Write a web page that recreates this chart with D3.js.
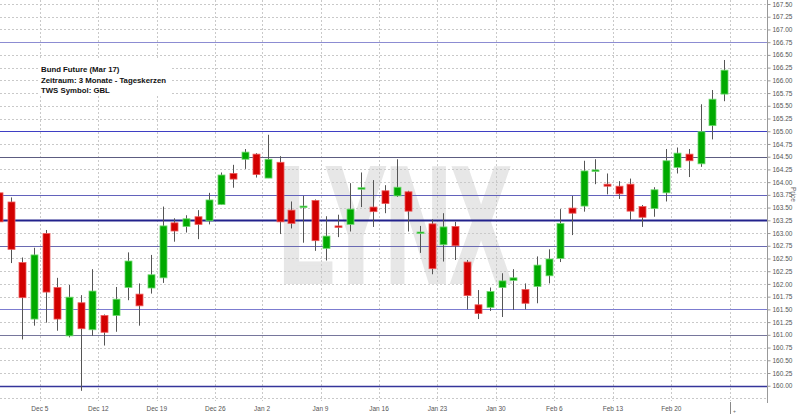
<!DOCTYPE html>
<html>
<head>
<meta charset="utf-8">
<script src="https://cdn.jsdelivr.net/npm/d3@7/dist/d3.min.js"></script>
<style>
  html, body { margin: 0; padding: 0; background: #fff; }
  svg { display: block; }
</style>
</head>
<body>
<svg id="chart" width="800" height="416"></svg>
<script>
// ---------- data ----------
const dates = ["Nov 29","Nov 30","Dec 1","Dec 2",
  "Dec 5","Dec 6","Dec 7","Dec 8","Dec 9",
  "Dec 12","Dec 13","Dec 14","Dec 15","Dec 16",
  "Dec 19","Dec 20","Dec 21","Dec 22","Dec 23",
  "Dec 27","Dec 28","Dec 29","Dec 30",
  "Jan 2","Jan 3","Jan 4","Jan 5","Jan 6",
  "Jan 9","Jan 10","Jan 11","Jan 12","Jan 13",
  "Jan 16","Jan 17","Jan 18","Jan 19","Jan 20",
  "Jan 23","Jan 24","Jan 25","Jan 26","Jan 27",
  "Jan 30","Jan 31","Feb 1","Feb 2","Feb 3",
  "Feb 6","Feb 7","Feb 8","Feb 9","Feb 10",
  "Feb 13","Feb 14","Feb 15","Feb 16","Feb 17",
  "Feb 20","Feb 21","Feb 22","Feb 23","Feb 24"];
const futureDays = ["Feb 27","Feb 28","Mar 1","Mar 2"];

const open  = [163.79,163.61,162.42,161.31, 162.99,161.93,160.98,161.63,161.10,
  161.38,161.38,161.93,161.80,161.92, 162.12,163.20,163.13,163.32,163.24,
  163.56,164.17,164.45,164.55, 164.08,164.39,163.45,163.51,163.64,
  162.70,163.14,163.17,163.87,163.51, 163.83,163.73,163.81,163.01,163.18,
  162.77,163.13,162.43,161.59,161.54, 161.93,162.07,161.89,161.95,162.16,
  162.50,163.49,163.53,164.21,163.96, 163.92,163.96,163.52,163.48,163.79,
  164.29,164.55,164.36,165.11,165.73];
const high  = [163.85,163.70,162.52,162.71, 163.06,162.12,161.98,161.78,162.29,
  161.40,161.94,162.62,162.01,162.57, 163.52,163.29,163.35,163.45,163.79,
  164.19,164.34,164.65,164.57, 164.93,164.51,163.62,163.73,163.66,
  163.33,163.36,163.98,164.19,164.04, 163.94,164.45,163.83,163.14,163.27,
  163.39,163.22,162.47,161.88,161.93, 162.21,162.29,162.01,162.54,162.68,
  163.47,163.73,164.42,164.45,164.17, 164.02,164.07,163.55,163.90,164.65,
  164.68,164.65,165.53,165.81,166.40];
const low   = [163.15,162.41,160.91,161.18, 161.24,161.08,160.95,159.90,160.98,
  160.79,161.06,161.68,161.18,161.81, 162.02,162.83,163.01,162.88,163.17,
  163.55,163.89,164.26,164.09, 164.08,162.98,163.09,162.81,162.65,
  162.46,162.92,163.03,163.51,163.12, 163.39,163.71,163.03,162.61,162.19,
  162.44,162.47,161.50,161.31,161.47, 161.35,161.49,161.50,161.62,162.01,
  162.43,162.96,163.42,163.96,163.76, 163.67,163.26,163.12,163.32,163.62,
  164.17,164.10,164.30,164.84,165.59];
const close = [163.22,162.68,161.73,162.57, 161.84,161.31,161.74,161.12,161.86,
  161.05,161.70,162.45,161.57,162.18, 163.14,163.04,163.28,163.17,163.65,
  164.14,164.06,164.59,164.15, 164.45,163.22,163.19,163.53,162.85,
  162.94,163.12,163.47,163.89,163.42, 163.58,163.90,163.43,163.02,162.30,
  163.12,162.75,161.77,161.42,161.85, 162.06,162.12,161.62,162.37,162.49,
  163.19,163.39,164.22,164.24,163.92, 163.77,163.43,163.31,163.85,164.42,
  164.57,164.42,164.99,165.63,166.20];

const weekStarts = ["Dec 5","Dec 12","Dec 19","Dec 27","Jan 2","Jan 9","Jan 16","Jan 23","Jan 30","Feb 6","Feb 13","Feb 20","Feb 27"];
const weekLabels = ["Dec 5","Dec 12","Dec 19","Dec 26","Jan 2","Jan 9","Jan 16","Jan 23","Jan 30","Feb 6","Feb 13","Feb 20","+"];

const yTicks = [160.00,160.25,160.50,160.75,161.00,161.25,161.50,161.75,162.00,162.25,162.50,162.75,
  163.00,163.25,163.50,163.75,164.00,164.25,164.50,164.75,165.00,165.25,165.50,165.75,
  166.00,166.25,166.50,166.75,167.00,167.25,167.50];
const gridLevels = [159.75].concat(yTicks);

const refLevels = [166.75,165.00,164.50,163.75,163.25,162.75,161.50,161.00,160.00];
const refColors = ["#8c8cd2","#3f3fc4","#5c5c80","#6262bc","#22228c","#6a6ab2","#7c7cd0","#76769c","#34349a"];
const refWidths = [1,1.2,1.2,1.2,2,1.2,1,1.2,1.5];

const legendLines = ["Bund Future (Mar 17)","Zeitraum: 3 Monate - Tageskerzen","TWS Symbol: GBL"];

// ---------- layout ----------
const plotLeft = 0, plotRight = 767, plotTop = 0, plotBottom = 401;
const svg = d3.select("#chart");

const y = d3.scaleLinear().domain([159.7, 167.5786]).range([plotBottom, plotTop]);
const allDays = dates.concat(futureDays);
const step = 11.695;
const x = d3.scaleBand().domain(allDays)
  .range([-6.93, -6.93 + allDays.length * step]).paddingInner(0).paddingOuter(0);
const bw = x.bandwidth();
const cx = d => x(d) + bw / 2;

svg.append("defs").append("clipPath").attr("id","plotclip")
  .append("rect").attr("x",plotLeft).attr("y",plotTop)
  .attr("width",plotRight-plotLeft).attr("height",plotBottom-plotTop+1);

// watermark
svg.append("text")
  .attr("x", 279).attr("y", 282)
  .attr("font-family","Liberation Sans, Arial, sans-serif")
  .attr("font-weight","bold").attr("font-size",166)
  .attr("textLength",232).attr("lengthAdjust","spacingAndGlyphs")
  .attr("fill","#e7e7e7").attr("stroke","#e7e7e7").attr("stroke-width",4)
  .attr("stroke-linejoin","miter")
  .text("LYNX");

const plot = svg.append("g").attr("clip-path","url(#plotclip)");

// horizontal dotted grid
plot.selectAll("line.hg").data(gridLevels).enter().append("line")
  .attr("class","hg")
  .attr("x1",plotLeft).attr("x2",plotRight)
  .attr("y1",d=>Math.round(y(d))+0.5).attr("y2",d=>Math.round(y(d))+0.5)
  .attr("stroke","#c9c9c9").attr("stroke-width",1).attr("stroke-dasharray","2,2");

// vertical dotted grid
plot.selectAll("line.vg").data(weekStarts).enter().append("line")
  .attr("class","vg")
  .attr("x1",d=>Math.round(x(d))+0.5).attr("x2",d=>Math.round(x(d))+0.5)
  .attr("y1",plotTop).attr("y2",plotBottom)
  .attr("stroke","#c9c9c9").attr("stroke-width",1).attr("stroke-dasharray","2,2");

// reference lines
plot.selectAll("line.ref").data(refLevels).enter().append("line")
  .attr("class","ref")
  .attr("x1",plotLeft).attr("x2",plotRight)
  .attr("y1",d=>Math.round(y(d))+0.5).attr("y2",d=>Math.round(y(d))+0.5)
  .attr("stroke",(d,i)=>refColors[i]).attr("stroke-width",(d,i)=>refWidths[i]);

// candles
const candles = dates.map((d,i)=>({d, o:open[i], h:high[i], l:low[i], c:close[i]}));
const cg = plot.selectAll("g.candle").data(candles).enter().append("g").attr("class","candle");
cg.append("line")
  .attr("x1",d=>Math.round(cx(d.d))+0.5).attr("x2",d=>Math.round(cx(d.d))+0.5)
  .attr("y1",d=>y(d.h)).attr("y2",d=>y(d.l))
  .attr("stroke","#555").attr("stroke-width",1);
cg.append("rect")
  .attr("x",d=>Math.round(cx(d.d))-3)
  .attr("width",7)
  .attr("y",d=>y(Math.max(d.o,d.c)))
  .attr("height",d=>Math.max(1.5, Math.abs(y(d.o)-y(d.c))))
  .attr("fill",d=>d.c>=d.o ? "#00aa00" : "#d20000")
  .attr("stroke",d=>d.c>=d.o ? "#6fd86f" : "#ee5a5a")
  .attr("stroke-width",0.8);

// right axis
const yAxis = d3.axisRight(y).tickValues(yTicks).tickFormat(d3.format(".2f")).tickSize(3).tickPadding(2);
const ya = svg.append("g").attr("transform",`translate(${plotRight+0.5},0)`).call(yAxis);
ya.select(".domain").remove();
ya.selectAll("line").attr("stroke","#999");
ya.selectAll("text").attr("fill","#555").attr("font-size","6.5px")
  .attr("font-family","Liberation Sans, Arial, sans-serif");
svg.append("line").attr("x1",plotRight+0.5).attr("x2",plotRight+0.5)
  .attr("y1",0).attr("y2",403).attr("stroke","#999");

svg.append("text")
  .attr("transform",`translate(791,187) rotate(90)`)
  .attr("font-family","Liberation Sans, Arial, sans-serif")
  .attr("font-size","6.5px").attr("fill","#666").text("Price");

// x axis labels
const xl = svg.append("g");
weekStarts.forEach((d,i)=>{
  if (weekLabels[i] === "+") {
    xl.append("line").attr("x1",Math.round(x(d))+0.5).attr("x2",Math.round(x(d))+0.5)
      .attr("y1",402).attr("y2",414).attr("stroke","#888");
    xl.append("text").attr("x",Math.round(x(d))+3).attr("y",412.5)
      .attr("font-size","5px").attr("fill","#666")
      .attr("font-family","Liberation Sans, Arial, sans-serif").text("+");
  } else {
    xl.append("text").attr("x",x(d)).attr("y",411)
      .attr("text-anchor","middle")
      .attr("font-family","Liberation Sans, Arial, sans-serif")
      .attr("font-size","6.5px").attr("fill","#555").text(weekLabels[i]);
  }
});

// legend
svg.append("rect").attr("x",39).attr("y",60).attr("width",133).attr("height",35).attr("fill","#fff");
svg.append("g").selectAll("text").data(legendLines).enter().append("text")
  .attr("x",41).attr("y",(d,i)=>72 + i*10.5)
  .attr("font-family","Liberation Sans, Arial, sans-serif")
  .attr("font-weight","bold").attr("font-size","7.8px").attr("fill","#111")
  .text(d=>d);
</script>
</body>
</html>
